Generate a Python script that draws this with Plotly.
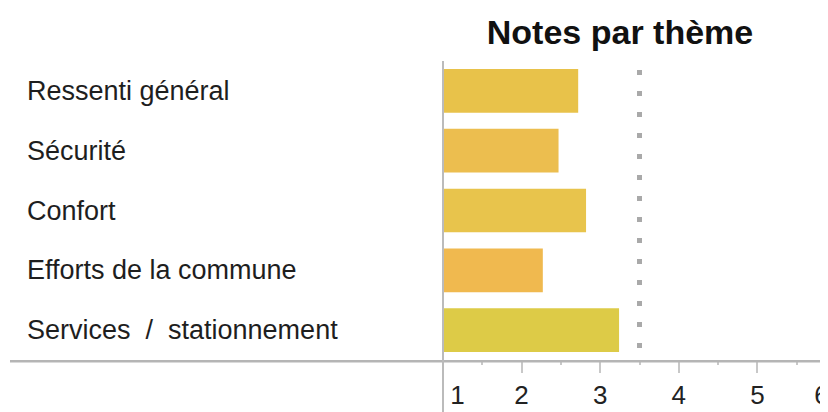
import plotly.graph_objects as go

categories = ["Ressenti général", "Sécurité", "Confort", "Efforts de la commune", "Services  /  stationnement"]
notes = [2.72, 2.47, 2.82, 2.27, 3.24]
bar_colors = ["#E8C24A", "#ECBE4F", "#E8C44C", "#F0B94F", "#DDCB47"]
reference = 3.5
tick_vals = [1, 2, 3, 4, 5, 6]
tick_text = ["\u00a0\u00a0\u00a0\u00a01", "2", "3", "4", "5", "6\u00a0\u00a0\u00a0\u00a0"]
minor_vals = [1.5, 2.5, 3.5, 4.5, 5.5]

FONT = "Liberation Sans, Arial, sans-serif"
L, PLOT_W, PLOT_H = 435, 393, 299

fig = go.Figure()

fig.add_trace(go.Bar(
    x=[n - 1 for n in notes],
    base=1,
    y=categories,
    orientation="h",
    marker=dict(color=bar_colors, line=dict(width=0)),
    showlegend=False,
    hoverinfo="skip",
))

# ligne de référence pointillée
fig.add_shape(type="line", xref="x", yref="paper",
              x0=reference, x1=reference, y0=0.04, y1=1.0,
              line=dict(color="#A9A9A9", width=5, dash="5px,16px"))

# libellés de catégories alignés à gauche
for cat in categories:
    fig.add_annotation(
        x=(17 - L) / PLOT_W, xref="paper", xanchor="left",
        y=cat, yref="y",
        text=cat, showarrow=False,
        font=dict(size=27, color="#1E1E1E", family=FONT),
    )

# ligne horizontale de base
fig.add_shape(type="line", xref="paper", yref="paper",
              x0=(2 - L) / PLOT_W, x1=1, y0=-0.004, y1=-0.004,
              line=dict(color="#B5B5B5", width=2.5))
# axe vertical prolongé vers le bas
fig.add_shape(type="line", xref="paper", yref="paper",
              x0=0, x1=0, y0=1.0, y1=-0.22,
              line=dict(color="#BBBBBB", width=2))

fig.update_layout(
    width=828, height=412,
    margin=dict(l=L, r=0, t=53, b=60),
    paper_bgcolor="white",
    plot_bgcolor="white",
    bargap=0.27,
    title=dict(
        text="<b>Notes par thème</b>",
        x=612 / 828, xanchor="center", xref="container",
        y=1 - 24 / 412, yanchor="middle", yref="container",
        font=dict(size=34, color="#111111", family=FONT),
    ),
    font=dict(family=FONT, color="#222222"),
)

fig.update_xaxes(
    range=[1, 6],
    tickvals=tick_vals, ticktext=tick_text,
    ticks="outside", ticklen=12, tickcolor="#C8C8C8", tickwidth=2,
    minor=dict(tickvals=minor_vals, ticks="outside", ticklen=4,
               tickcolor="#C8C8C8", tickwidth=2),
    tickfont=dict(size=26, color="#222222", family=FONT),
    ticklabeloverflow="allow",
    automargin=False,
    showgrid=False, zeroline=False, showline=False,
    fixedrange=True,
)
fig.update_yaxes(
    categoryorder="array", categoryarray=categories,
    range=[4.5, -0.5],
    showticklabels=False, ticks="",
    showgrid=False, zeroline=False, showline=False,
    automargin=False,
    fixedrange=True,
)

fig.write_html("out.html")
